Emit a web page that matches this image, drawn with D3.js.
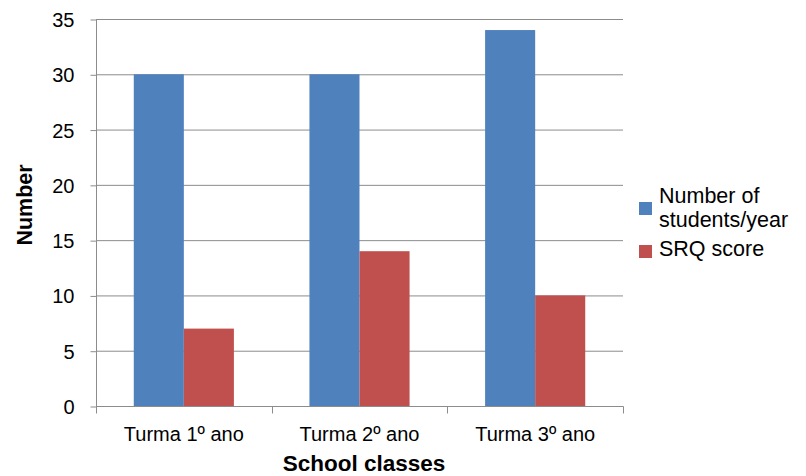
<!DOCTYPE html>
<html>
<head>
<meta charset="utf-8">
<script src="https://cdn.jsdelivr.net/npm/d3@7"></script>
<style>
  html, body { margin: 0; padding: 0; background: #fff; }
  svg text { font-family: "Liberation Sans", Arial, sans-serif; fill: #000; }
</style>
</head>
<body>
<svg id="chart" width="806" height="476"></svg>
<script>
// School classes and the two measured series
const categories = ["Turma 1º ano", "Turma 2º ano", "Turma 3º ano"];
const seriesNames = ["Number of students/year", "SRQ score"];
const studentsPerYear = [30, 30, 34];
const srqScore = [7, 14, 10];
const yTicks = [0, 5, 10, 15, 20, 25, 30, 35];
const colors = ["#4f81bd", "#c0504d"];

const svg = d3.select("#chart");
const plot = { left: 96, right: 623, top: 19, bottom: 406 };

const x = d3.scaleBand().domain(categories).range([plot.left, plot.right]);
const y = d3.scaleLinear().domain([0, 35]).range([plot.bottom, plot.top]);

const barW = x.bandwidth() * 0.285;
const sub = d3.scaleBand().domain([0, 1]).range([0, barW * 2]);

// horizontal gridlines
svg.append("g").selectAll("line").data(yTicks.filter(d => d > 0)).join("line")
  .attr("x1", plot.left).attr("x2", plot.right)
  .attr("y1", d => y(d) + 0.5).attr("y2", d => y(d) + 0.5)
  .attr("stroke", "#8c8c8c").attr("stroke-width", 1);

// bars
const rows = categories.map((c, i) => ({ c, vals: [studentsPerYear[i], srqScore[i]] }));
const groups = svg.append("g").selectAll("g").data(rows).join("g")
  .attr("transform", d => `translate(${x(d.c) + x.bandwidth() / 2 - barW},0)`);
groups.selectAll("rect").data(d => d.vals).join("rect")
  .attr("x", (d, i) => sub(i))
  .attr("width", sub.bandwidth())
  .attr("y", d => y(d))
  .attr("height", d => y(0) - y(d))
  .attr("fill", (d, i) => colors[i]);

// y axis
const yAxis = d3.axisLeft(y).tickValues(yTicks).tickSize(6).tickPadding(16);
const gy = svg.append("g").attr("transform", `translate(${plot.left + 0.5},0.5)`).call(yAxis);
gy.select(".domain").attr("stroke", "#8c8c8c").attr("d", `M0,${plot.top}V${plot.bottom}`);
gy.selectAll(".tick line").attr("stroke", "#8c8c8c");
gy.selectAll(".tick text").attr("font-size", 20).attr("dy", "0.35em");

// x axis
const gx = svg.append("g").attr("transform", `translate(0,${plot.bottom + 0.5})`);
gx.append("line").attr("x1", plot.left).attr("x2", plot.right + 0.5)
  .attr("stroke", "#8c8c8c");
const bounds = categories.map(c => x(c)).concat([plot.right]);
gx.selectAll(".sep").data(bounds).join("line").attr("class", "sep")
  .attr("x1", d => Math.round(d) + 0.5).attr("x2", d => Math.round(d) + 0.5)
  .attr("y1", 0).attr("y2", 7).attr("stroke", "#8c8c8c");
gx.selectAll("text").data(categories).join("text")
  .attr("x", d => x(d) + x.bandwidth() / 2)
  .attr("y", 34)
  .attr("text-anchor", "middle")
  .attr("font-size", 20)
  .text(d => d);

// axis titles
svg.append("text").attr("x", 364).attr("y", 471).attr("text-anchor", "middle")
  .attr("font-size", 22.5).attr("font-weight", "bold").text("School classes");
svg.append("text").attr("transform", "translate(32,205) rotate(-90)")
  .attr("text-anchor", "middle").attr("font-size", 21.5).attr("font-weight", "bold")
  .text("Number");

// legend
const legend = svg.append("g");
const legendItems = [
  { lines: ["Number of", "students/year"], color: colors[0], sq: 202, ty: 203 },
  { lines: ["SRQ score"], color: colors[1], sq: 245, ty: 256 }
];
legendItems.forEach(it => {
  legend.append("rect").attr("x", 639).attr("y", it.sq).attr("width", 13).attr("height", 13)
    .attr("fill", it.color);
  it.lines.forEach((l, j) => {
    legend.append("text").attr("x", 659).attr("y", it.ty + j * 24)
      .attr("font-size", 21.5).text(l);
  });
});
</script>
</body>
</html>
